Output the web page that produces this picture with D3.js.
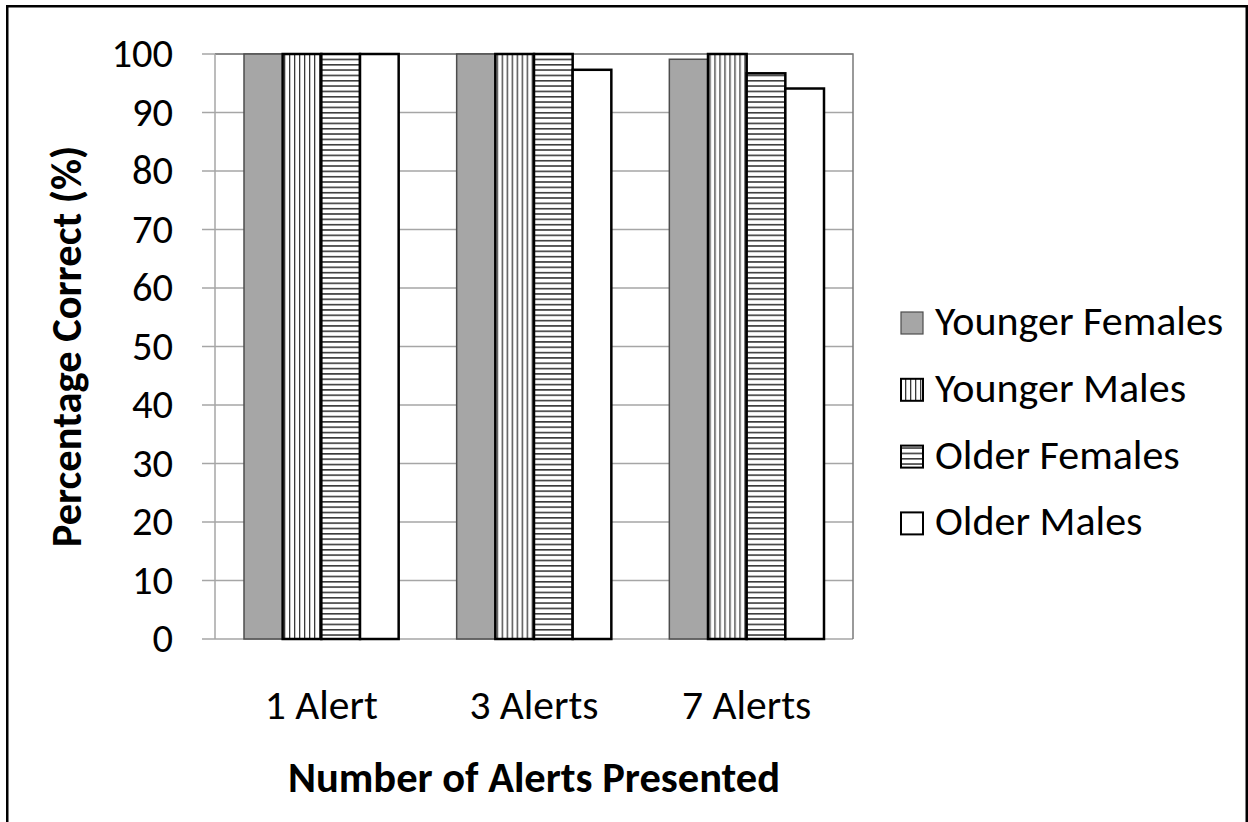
<!DOCTYPE html>
<html>
<head>
<meta charset="utf-8">
<script src="https://cdn.jsdelivr.net/npm/d3@7"></script>
<style>
  html, body { margin: 0; padding: 0; background: #fff; }
  svg { display: block; }
  text { font-family: Carlito, Calibri, Lato, sans-serif; fill: #000; }
</style>
</head>
<body>
<svg id="chart" width="1248" height="822"></svg>
<script>
const categories = ["1 Alert", "3 Alerts", "7 Alerts"];
const seriesNames = ["Younger Females", "Younger Males", "Older Females", "Older Males"];
const youngerFemales = [100, 100, 99.1];
const youngerMales = [100, 100, 100];
const olderFemales = [100, 100, 96.7];
const olderMales = [100, 97.3, 94.1];
const yTicks = [0, 10, 20, 30, 40, 50, 60, 70, 80, 90, 100];
const yTitle = "Percentage Correct (%)";
const xTitle = "Number of Alerts Presented";

const seriesValues = [youngerFemales, youngerMales, olderFemales, olderMales];

const svg = d3.select("#chart");
const plot = { left: 215, right: 853, top: 54, bottom: 639 };

// patterns
const defs = svg.append("defs");
const pv = defs.append("pattern").attr("id", "pv").attr("patternUnits", "userSpaceOnUse")
  .attr("width", 5).attr("height", 10);
pv.append("rect").attr("width", 5).attr("height", 10).attr("fill", "#fff");
pv.append("rect").attr("x", 0).attr("width", 1.3).attr("height", 10).attr("fill", "#3a3a3a");
const ph = defs.append("pattern").attr("id", "ph").attr("patternUnits", "userSpaceOnUse")
  .attr("width", 10).attr("height", 5.33);
ph.append("rect").attr("width", 10).attr("height", 5.33).attr("fill", "#fff");
ph.append("rect").attr("y", 0).attr("width", 10).attr("height", 1.6).attr("fill", "#3a3a3a");

const styles = [
  { fill: "#a6a6a6", stroke: "#4d4d4d", sw: 1.5 },
  { fill: "url(#pv)", stroke: "#000", sw: 2.5 },
  { fill: "url(#ph)", stroke: "#000", sw: 2.5 },
  { fill: "#fff", stroke: "#000", sw: 2.5 }
];

// outer border
svg.append("rect").attr("x", 7.25).attr("y", 6.25).attr("width", 1239.5).attr("height", 900)
  .attr("fill", "#fff").attr("stroke", "#000").attr("stroke-width", 2.5);

const x0 = d3.scaleBand().domain(categories).range([plot.left, plot.right])
  .paddingInner(1.5 / 5.5).paddingOuter(0.75 / 5.5);
const x1 = d3.scaleBand().domain(seriesNames).range([0, x0.bandwidth()]).padding(0);
const y = d3.scaleLinear().domain([0, 100]).range([plot.bottom, plot.top]);

// gridlines
svg.append("g").selectAll("line").data(yTicks).join("line")
  .attr("x1", plot.left - 13).attr("x2", plot.right)
  .attr("y1", d => y(d)).attr("y2", d => y(d))
  .attr("stroke", "#a6a6a6").attr("stroke-width", 1.5);

// plot area border (top/right darker)
svg.append("path")
  .attr("d", `M${plot.left},${plot.top}H${plot.right}V${plot.bottom}`)
  .attr("fill", "none").attr("stroke", "#7a7a7a").attr("stroke-width", 1.5);

// y axis line
svg.append("line").attr("x1", plot.left).attr("x2", plot.left)
  .attr("y1", plot.top).attr("y2", plot.bottom)
  .attr("stroke", "#a6a6a6").attr("stroke-width", 1.5);

// y tick labels
svg.append("g").selectAll("text").data(yTicks).join("text")
  .attr("x", 173).attr("y", d => y(d)).attr("dy", "0.33em")
  .attr("text-anchor", "end").style("font-size", "40.5px")
  .text(d => d);

// bars
const groups = svg.append("g").selectAll("g").data(categories).join("g")
  .attr("transform", c => `translate(${x0(c)},0)`);
groups.selectAll("rect").data((c, ci) => seriesNames.map((s, si) => ({ s, si, v: seriesValues[si][ci] })))
  .join("rect")
  .attr("x", d => x1(d.s)).attr("width", x1.bandwidth())
  .attr("y", d => y(d.v)).attr("height", d => y(0) - y(d.v))
  .attr("fill", d => styles[d.si].fill)
  .attr("stroke", d => styles[d.si].stroke)
  .attr("stroke-width", d => styles[d.si].sw);

// x labels
svg.append("g").selectAll("text").data(categories).join("text")
  .attr("x", c => x0(c) + x0.bandwidth() / 2).attr("y", 719)
  .attr("text-anchor", "middle").style("font-size", "41.5px")
  .text(c => c);

// axis titles
svg.append("text").attr("x", (plot.left + plot.right) / 2).attr("y", 792)
  .attr("text-anchor", "middle").style("font-size", "42.5px").style("font-weight", "bold")
  .text(xTitle);
svg.append("text").attr("transform", `translate(81,${(plot.top + plot.bottom) / 2}) rotate(-90)`)
  .attr("text-anchor", "middle").style("font-size", "42.5px").style("font-weight", "bold")
  .text(yTitle);

// legend
const leg = svg.append("g").selectAll("g").data(seriesNames).join("g")
  .attr("transform", (d, i) => `translate(900,${335 + i * 66.8})`);
leg.append("rect").attr("x", 1).attr("y", -23).attr("width", 22).attr("height", 22)
  .attr("fill", (d, i) => styles[i].fill)
  .attr("stroke", (d, i) => styles[i].stroke)
  .attr("stroke-width", (d, i) => i === 0 ? 1.2 : 2);
leg.append("text").attr("x", 35).attr("y", 0).style("font-size", "42px").text(d => d);
</script>
</body>
</html>
